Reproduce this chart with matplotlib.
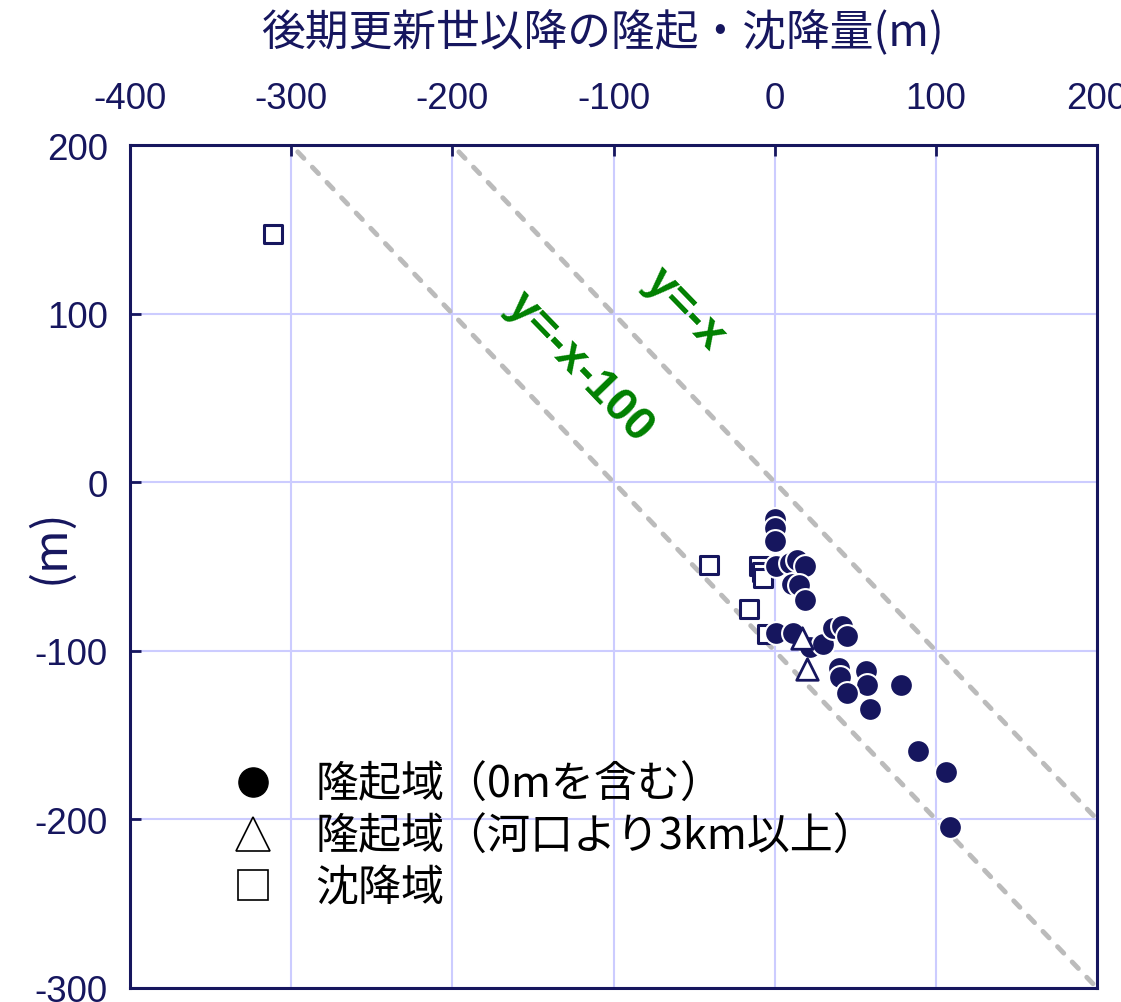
import matplotlib
matplotlib.use('Agg')
import matplotlib.pyplot as plt
from matplotlib import font_manager
from matplotlib.lines import Line2D
import numpy as np

plt.rcParams['font.family'] = ['Noto Sans CJK JP', 'DejaVu Sans']
plt.rcParams['axes.unicode_minus'] = False

# 隆起域（0mを含む）
up_x = [0, 0, 0, 1, 9.5, 14, 19, 10.5, 15, 19, 1, 11.5, 22, 30, 36, 42, 45,
        40, 40.5, 56.5, 57.5, 45, 59, 78.5, 89, 106.5, 109]
up_y = [-22, -27, -35, -50, -48, -46, -49.5, -60.5, -61, -70, -89.5, -89.5, -97.5, -96, -86.5, -85.5, -91,
        -110, -115.5, -112, -120, -125, -134.5, -120.5, -159.5, -172, -204.5]
# 隆起域（河口より3km以上）
up3_x = [17, 20]
up3_y = [-92.5, -111]
# 沈降域
down_x = [-311, -41, -10, -8, -7, -16, -5]
down_y = [147, -49, -50, -53.5, -57, -75, -90]

xticks = [-400, -300, -200, -100, 0, 100, 200]
yticks = [-300, -200, -100, 0, 100, 200]

navy = '#16165e'
grid_c = '#ccccff'

# 目盛り用の細いフォント（なければ Liberation Sans）
names = {f.name for f in font_manager.fontManager.ttflist}
if 'Liberation Sans Narrow' in names:
    tick_font, tick_size = 'Liberation Sans Narrow', 29
else:
    tick_font, tick_size = 'Liberation Sans', 26.5

fig = plt.figure(figsize=(11.21, 10.03), dpi=100)
ax = fig.add_axes([0.116, 0.014, 0.8626, 0.8404])

# 参照線 y=-x, y=-x-100
lx = np.array([-400, 200])
ax.plot(lx, -lx, color='#bbbbbb', lw=3.5, ls=(0, (1.85, 2.5)), dash_capstyle='round', zorder=2)
ax.plot(lx, -lx - 100, color='#bbbbbb', lw=3.5, ls=(0, (1.85, 2.5)), dash_capstyle='round', zorder=2)

ax.scatter(down_x, down_y, marker='s', s=170, facecolor='white', edgecolor=navy, linewidth=2.2, zorder=3)
ax.scatter(up_x, up_y, marker='o', s=270, facecolor=navy, edgecolor='white', linewidth=1.5, zorder=4)
ax.scatter(up3_x, up3_y, marker='^', s=240, facecolor='white', edgecolor=navy, linewidth=2, zorder=5)

ax.text(-55.7, 103, 'y=-x', color='#008000', fontsize=34, fontweight='bold',
        family=['Liberation Sans', 'DejaVu Sans'], rotation=-46, ha='center', va='center', zorder=6)
ax.text(-121, 69, 'y=-x-100', color='#008000', fontsize=34, fontweight='bold',
        family=['Liberation Sans', 'DejaVu Sans'], rotation=-46, ha='center', va='center', zorder=6)

ax.set_xlim(-400, 200)
ax.set_ylim(-300, 200)
ax.set_xticks(xticks)
ax.set_yticks(yticks)
ax.set_xticklabels([str(v) for v in xticks], fontfamily=tick_font, fontsize=tick_size, color=navy)
ax.set_yticklabels([str(v) for v in yticks], fontfamily=tick_font, fontsize=tick_size, color=navy)
ax.grid(True, color=grid_c, lw=1.5, zorder=0)
ax.set_axisbelow(True)

ax.xaxis.tick_top()
ax.xaxis.set_label_position('top')
ax.tick_params(axis='both', direction='in', length=8, width=2, color=navy)
ax.tick_params(axis='x', pad=21)
ax.tick_params(axis='y', pad=16)
for sp in ax.spines.values():
    sp.set_color(navy)
    sp.set_linewidth(2.2)

ax.set_xlabel('後期更新世以降の隆起・沈降量(m)', fontsize=31.5, color=navy, labelpad=26)
ax.xaxis.label.set_x(0.489)
fig.text(0.045, 0.455, '(m)', fontsize=34, color=navy, rotation=90, ha='center', va='center')

handles = [
    Line2D([], [], ls='none', marker='o', markersize=21, markerfacecolor='black', markeredgecolor='black'),
    Line2D([], [], ls='none', marker='^', markersize=25, markerfacecolor='white', markeredgecolor='black', markeredgewidth=1.2),
    Line2D([], [], ls='none', marker='s', markersize=21, markerfacecolor='white', markeredgecolor='black', markeredgewidth=1.2),
]
labels = ['隆起域（0mを含む）', '隆起域（河口より3km以上）', '沈降域']
leg = ax.legend(handles, labels, loc='upper left', bbox_to_anchor=(0.078, 0.292), frameon=False,
                fontsize=31, handlelength=1.2, handletextpad=0.85, labelspacing=0.17, borderpad=0)
for t in leg.get_texts():
    t.set_color('black')

fig.savefig('out.png', dpi=100)
